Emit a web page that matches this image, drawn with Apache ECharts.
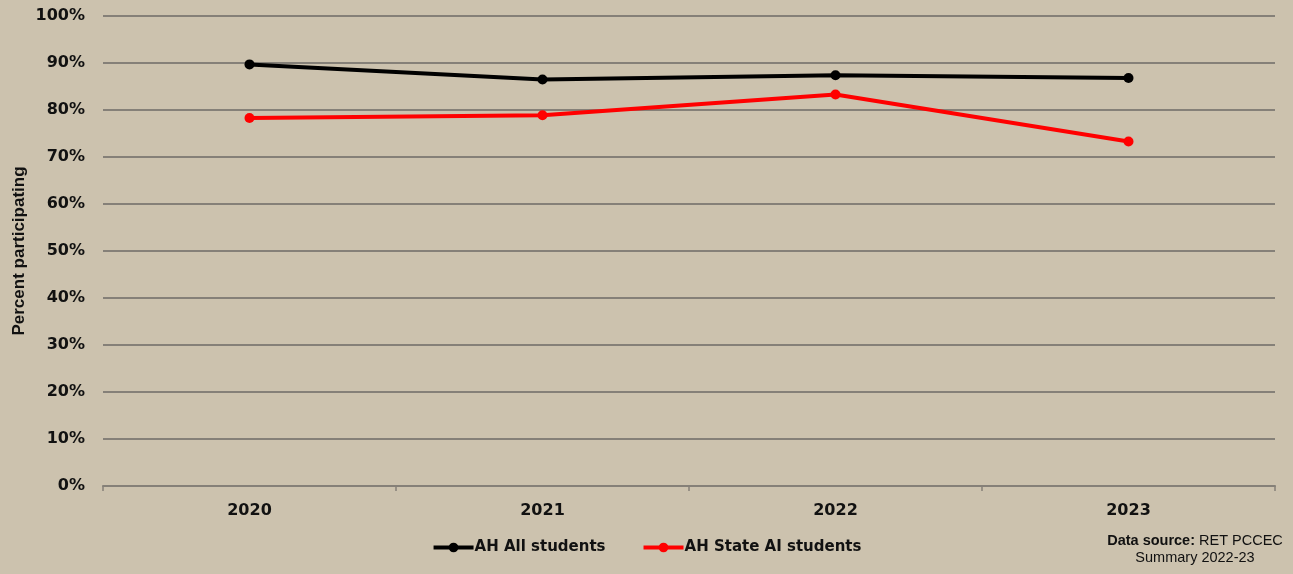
<!DOCTYPE html>
<html>
<head>
<meta charset="utf-8">
<script src="https://cdn.jsdelivr.net/npm/echarts@6/dist/echarts.min.js"></script>
<style>
  html, body { margin: 0; padding: 0; background: #ccc2ae; }
  #chart { width: 1293px; height: 574px; }
</style>
</head>
<body>
<div id="chart"></div>
<script>
// Participation rates by school year
const years = ['2020', '2021', '2022', '2023'];
const allStudents = [89.7, 86.5, 87.4, 86.8];
const stateAIStudents = [78.3, 78.9, 83.3, 73.3];
const seriesNames = ['AH All students', 'AH State AI students'];

const chart = echarts.init(document.getElementById('chart'));

const labelFont = 'DejaVu Sans, Tahoma, sans-serif';
const noteFont = 'Liberation Sans, Arial, sans-serif';

chart.setOption({
  backgroundColor: '#ccc2ae',
  animation: false,
  grid: { left: 103, right: 18, top: 16, bottom: 88, containLabel: false, outerBoundsMode: 'none' },
  legend: {
    data: seriesNames,
    bottom: 14,
    left: 'center',
    itemWidth: 40,
    itemHeight: 12,
    itemGap: 36,
    lineStyle: { width: 4 },
    textStyle: { fontFamily: labelFont, fontWeight: 'bold', fontSize: 15, color: '#111', padding: [0, 0, 0, -4] }
  },
  xAxis: {
    type: 'category',
    data: years,
    boundaryGap: true,
    axisLine: { lineStyle: { color: '#858078', width: 2 } },
    axisTick: { show: true, length: 5, lineStyle: { color: '#858078', width: 1.5 } },
    axisLabel: { margin: 17, fontFamily: labelFont, fontWeight: 'bold', fontSize: 16, color: '#111' }
  },
  yAxis: {
    type: 'value',
    min: 0,
    max: 100,
    interval: 10,
    name: 'Percent participating',
    nameLocation: 'middle',
    nameGap: 75,
    nameMoveOverlap: false,
    nameTextStyle: { fontFamily: noteFont, fontWeight: 'bold', fontSize: 17, color: '#111' },
    axisLine: { show: false },
    axisTick: { show: false },
    axisLabel: { margin: 18, formatter: '{value}%', fontFamily: labelFont, fontWeight: 'bold', fontSize: 16, color: '#111' },
    splitLine: { lineStyle: { color: '#858078', width: 2 } }
  },
  series: [
    {
      name: seriesNames[0],
      type: 'line',
      data: allStudents,
      symbol: 'circle',
      symbolSize: 10,
      color: '#000000',
      lineStyle: { width: 4, color: '#000000' },
      itemStyle: { color: '#000000' }
    },
    {
      name: seriesNames[1],
      type: 'line',
      data: stateAIStudents,
      symbol: 'circle',
      symbolSize: 10,
      color: '#ff0000',
      lineStyle: { width: 4, color: '#ff0000' },
      itemStyle: { color: '#ff0000' }
    }
  ],
  graphic: [
    {
      type: 'text',
      x: 1195,
      y: 541,
      style: {
        text: '{b|Data source:} RET PCCEC',
        align: 'center',
        verticalAlign: 'middle',
        fontFamily: noteFont,
        fontSize: 14.5,
        fill: '#111',
        rich: { b: { fontWeight: 'bold', fontFamily: noteFont, fontSize: 14.5, fill: '#111' } }
      }
    },
    {
      type: 'text',
      x: 1195,
      y: 558,
      style: {
        text: 'Summary 2022-23',
        align: 'center',
        verticalAlign: 'middle',
        fontFamily: noteFont,
        fontSize: 14.5,
        fill: '#111'
      }
    }
  ]
});
</script>
</body>
</html>
